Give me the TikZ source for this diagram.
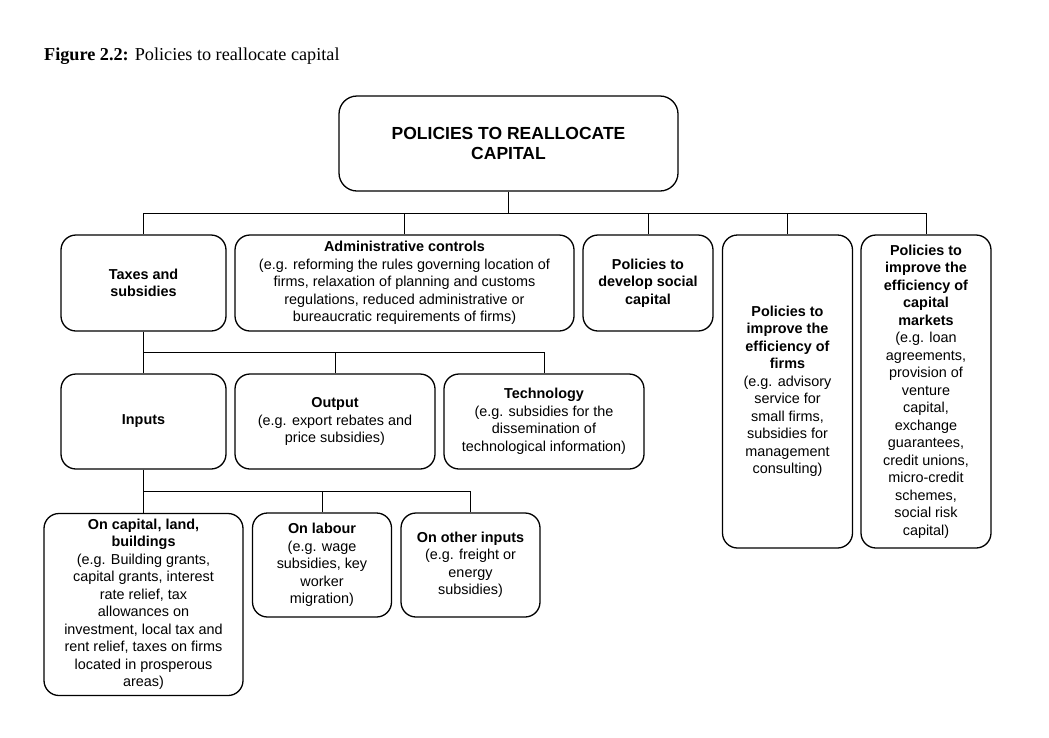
\documentclass[tikz,border=0pt]{standalone}
\usepackage{fontspec}
\setmainfont{Liberation Sans}
\newfontfamily\capfont{Liberation Serif}
\begin{document}
\begin{tikzpicture}[x=1pt,y=-1pt,
  box/.style={draw=black, line width=1.3pt, rounded corners=15pt, inner sep=0pt,
    align=center, font=\fontsize{14.4}{17.5}\selectfont},
  conn/.style={draw=black, line width=1pt}]
\useasboundingbox (0,0) rectangle (1049,737);
\node[anchor=base west, inner sep=0pt, font=\capfont\fontsize{18.2}{20}\selectfont] (cap) at (44,60) {\textbf{Figure 2.2:} Policies to reallocate capital};

\node[box, rounded corners=18pt, minimum width=339pt, minimum height=95pt, font=\fontsize{17.5}{20}\selectfont\bfseries] (top) at (508.5,143.5) {POLICIES TO REALLOCATE\\CAPITAL};

\node[box, minimum width=165pt, minimum height=96pt] (tax) at (143.5,283) {\textbf{Taxes and}\\\textbf{subsidies}};
\node[box, minimum width=339pt, minimum height=96pt] (adm) at (404.5,283) {\textbf{Administrative controls}\\(e.g. reforming the rules governing location of\\firms, relaxation of planning and customs\\regulations, reduced administrative or\\bureaucratic requirements of firms)};
\node[box, minimum width=130pt, minimum height=96pt] (soc) at (648,283) {\textbf{Policies to}\\\textbf{develop social}\\\textbf{capital}};
\node[box, minimum width=130pt, minimum height=313pt] (frm) at (787.5,391.5) {\textbf{Policies to}\\\textbf{improve the}\\\textbf{efficiency of}\\\textbf{firms}\\(e.g. advisory\\service for\\small firms,\\subsidies for\\management\\consulting)};
\node[box, minimum width=130pt, minimum height=313pt] (mkt) at (926,391.5) {\textbf{Policies to}\\\textbf{improve the}\\\textbf{efficiency of}\\\textbf{capital}\\\textbf{markets}\\(e.g. loan\\agreements,\\provision of\\venture\\capital,\\exchange\\guarantees,\\credit unions,\\micro-credit\\schemes,\\social risk\\capital)};

\node[box, minimum width=165pt, minimum height=95pt] (inp) at (143.5,421.5) {\textbf{Inputs}};
\node[box, minimum width=200pt, minimum height=95pt] (out) at (335,421.5) {\textbf{Output}\\(e.g. export rebates and\\price subsidies)};
\node[box, minimum width=200pt, minimum height=95pt] (tec) at (544,421.5) {\textbf{Technology}\\(e.g. subsidies for the\\dissemination of\\technological information)};

\node[box, minimum width=199pt, minimum height=182pt] (cpl) at (143.5,604.5) {\textbf{On capital, land,}\\\textbf{buildings}\\(e.g. Building grants,\\capital grants, interest\\rate relief, tax\\allowances on\\investment, local tax and\\rent relief, taxes on firms\\located in prosperous\\areas)};
\node[box, minimum width=139pt, minimum height=104pt] (lab) at (322,565) {\textbf{On labour}\\(e.g. wage\\subsidies, key\\worker\\migration)};
\node[box, minimum width=139pt, minimum height=104pt] (oth) at (470.5,565) {\textbf{On other inputs}\\(e.g. freight or\\energy\\subsidies)};

\coordinate (b1) at (509,213);
\coordinate (b2) at (143,352);
\coordinate (b3) at (143,491);

\draw[conn] (top.south) -- (top.south |- b1);
\draw[conn] (tax.north) -- (tax.north |- b1) -- (mkt.north |- b1) -- (mkt.north);
\draw[conn] (adm.north) -- (adm.north |- b1);
\draw[conn] (soc.north) -- (soc.north |- b1);
\draw[conn] (frm.north) -- (frm.north |- b1);

\draw[conn] (tax.south) -- (tax.south |- b2);
\draw[conn] (inp.north) -- (inp.north |- b2) -- (tec.north |- b2) -- (tec.north);
\draw[conn] (out.north) -- (out.north |- b2);

\draw[conn] (inp.south) -- (inp.south |- b3);
\draw[conn] (cpl.north) -- (cpl.north |- b3) -- (oth.north |- b3) -- (oth.north);
\draw[conn] (lab.north) -- (lab.north |- b3);
\end{tikzpicture}
\end{document}
